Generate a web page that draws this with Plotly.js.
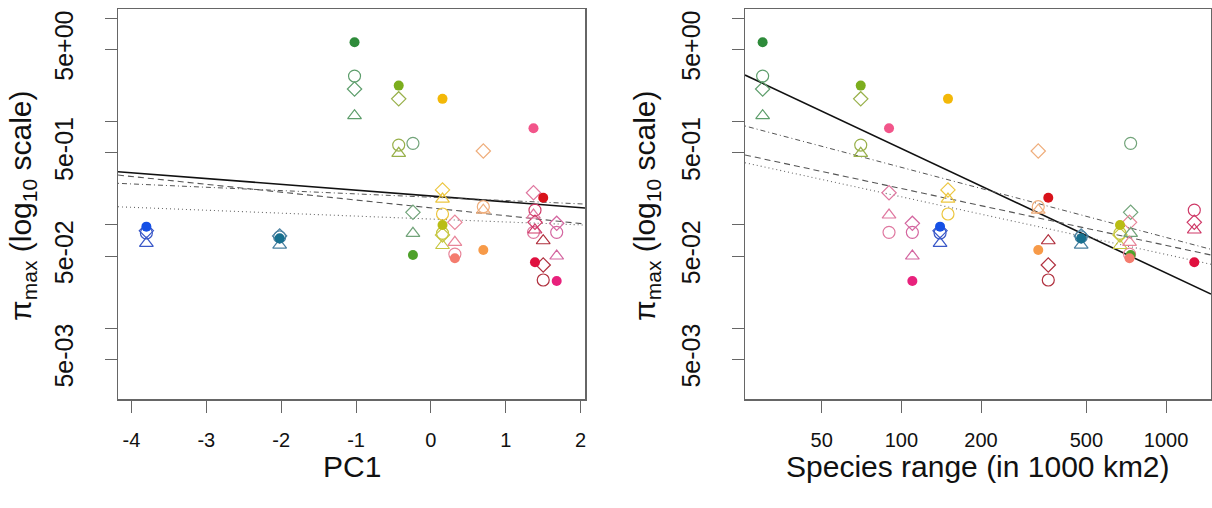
<!DOCTYPE html>
<html>
<head>
<meta charset="utf-8">
<script src="https://cdn.plot.ly/plotly-3.0.1.min.js"></script>
<style>
  html, body { margin: 0; padding: 0; background: #fff; }
  #chart { width: 1212px; height: 508px; }
</style>
</head>
<body>
<div id="chart"></div>
<script>
// ---- data ----
// one entry per species (colour)
const pc1 = [-1.02, -0.43, -0.24, 0.155, 0.155, 0.32, 0.70, 1.50, 1.37, 1.39, 1.68, -3.80, -2.02];
const speciesRange = [29.9, 70.2, 735, 150, 670, 728, 329, 359, 89.8, 1279, 110, 140, 478];
const piFilled   = [5.86, 2.23, 0.0512, 1.66, 0.0997, 0.0475, 0.0571, 0.183, 0.861, 0.0435, 0.0286, 0.0962, 0.0741];
const piCircle   = [2.76, 0.593, 0.616, 0.1276, 0.083, 0.0522, 0.150, 0.0293, 0.0848, 0.139, 0.0848, 0.0835, 0.0765];
const piDiamond  = [2.07, 1.66, 0.1324, 0.218, 0.080, 0.1059, 0.519, 0.0409, 0.205, 0.106, 0.1035, 0.0879, 0.0782];
const piTriangle = [1.14, 0.493, 0.0830, 0.178, 0.0632, 0.0679, 0.139, 0.0703, 0.1247, 0.0893, 0.050, 0.0664, 0.0638];
const fillColors = ['#2e8b3a', '#7cae1e', '#4ea12a', '#f3b808', '#b9bd14', '#f47c6e', '#f79a48', '#d8121a', '#f2558a', '#e0103f', '#e8217c', '#1550e6', '#17708f'];
const openColors = ['#5e9e6c', '#98b04a', '#72a47a', '#ecc640', '#c6c640', '#e8869a', '#efae7c', '#b0303e', '#df78a0', '#cf3a68', '#d466a0', '#3a58c8', '#4a80a0'];

// regression lines in log10(pi) space: solid, dashed, dot-dash, dotted
const leftIntercepts  = [-0.720, -0.835, -0.732, -0.943];
const leftSlopes      = [-0.0563, -0.0760, -0.0322, -0.0284];
const rightIntercepts = [2.147, 0.452, 0.913, 0.388];
const rightSlopes     = [-1.204, -0.550, -0.678, -0.558];

const yTickVals = [10, 5, 1, 0.5, 0.1, 0.05, 0.01, 0.005];
const yTickText = ['', '5e+00', '', '5e-01', '', '5e-02', '', '5e-03'];
const xTickVals1 = [-4, -3, -2, -1, 0, 1, 2];
const xTickVals2 = [50, 100, 200, 500, 1000];

// ---- styling ----
const xRange1 = [-4.179, 2.058];
const xRange2 = [1.409, 3.170];
const yRange = [-2.685, 1.087];
const lineStyles = [
  {color: '#111', width: 1.6, dash: 'solid'},
  {color: '#555', width: 1.1, dash: '6px,4px'},
  {color: '#555', width: 1, dash: '1px,3px,5px,3px'},
  {color: '#666', width: 1.1, dash: '1px,3px'}
];

const traces = [];
function addLines(intercepts, slopes, xr, isLog, xa, ya) {
  for (let i = 0; i < intercepts.length; i++) {
    const lx = [xr[0], xr[1]];
    const ys = lx.map(v => Math.pow(10, intercepts[i] + slopes[i] * v));
    const xs = isLog ? lx.map(v => Math.pow(10, v)) : lx;
    traces.push({x: xs, y: ys, xaxis: xa, yaxis: ya, mode: 'lines', line: lineStyles[i], hoverinfo: 'skip', showlegend: false});
  }
}
addLines(leftIntercepts, leftSlopes, xRange1, false, 'x', 'y');
addLines(rightIntercepts, rightSlopes, xRange2, true, 'x2', 'y2');

const markerDefs = [
  {vals: piCircle, symbol: 'circle-open', size: 12, open: true},
  {vals: piDiamond, symbol: 'diamond-open', size: 11, open: true},
  {vals: piTriangle, symbol: 'triangle-up-open', size: 12, open: true},
  {vals: piFilled, symbol: 'circle', size: 10, open: false}
];
function addPoints(xvals, xa, ya) {
  markerDefs.forEach(md => {
    traces.push({
      x: xvals, y: md.vals, xaxis: xa, yaxis: ya, mode: 'markers', showlegend: false,
      marker: {
        symbol: md.symbol, size: md.size,
        color: md.open ? openColors : fillColors,
        line: md.open ? {width: 1.2, color: openColors} : {width: 0}
      }
    });
  });
}
addPoints(pc1, 'x', 'y');
addPoints(speciesRange, 'x2', 'y2');

const tickFont = {family: 'Liberation Sans, Arial, sans-serif', size: 20, color: '#111'};
const yTickFont = {family: 'Liberation Sans, Arial, sans-serif', size: 25, color: '#111'};
const yDomain = [(508 - 399) / 508, (508 - 9.3) / 508];

function xAxis(domain, range, type, anchor, vals) {
  return {
    showgrid: false, zeroline: false, showline: true, mirror: true,
    linecolor: '#666', linewidth: 1.5, ticks: 'outside', ticklen: 12,
    tickcolor: '#666', tickwidth: 1, automargin: false,
    tickfont: tickFont, domain: domain, range: range, type: type, anchor: anchor,
    tickmode: 'array', tickvals: vals, ticktext: vals.map(String), ticklabelstandoff: 10
  };
}
function yAxis(anchor) {
  return {
    showgrid: false, zeroline: false, showline: true, mirror: true,
    linecolor: '#666', linewidth: 1.5, ticks: 'outside', ticklen: 12,
    tickcolor: '#666', tickwidth: 1, automargin: false,
    tickfont: yTickFont, domain: yDomain, type: 'log', range: yRange, anchor: anchor,
    tickmode: 'array', tickvals: yTickVals, ticktext: yTickText, tickangle: -90, ticklabelstandoff: 22
  };
}

const layout = {
  width: 1212, height: 508,
  margin: {l: 0, r: 0, t: 0, b: 0},
  paper_bgcolor: '#fff', plot_bgcolor: '#fff',
  showlegend: false,
  font: {family: 'Liberation Sans, Arial, sans-serif', color: '#111'},
  xaxis: xAxis([118 / 1212, 585 / 1212], xRange1, 'linear', 'y', xTickVals1),
  yaxis: yAxis('x'),
  xaxis2: xAxis([745 / 1212, 1211 / 1212], xRange2, 'log', 'y2', xTickVals2),
  yaxis2: yAxis('x2'),
  annotations: [
    {text: 'PC1', xref: 'paper', yref: 'paper', x: 351.5 / 1212, y: (508 - 466) / 508,
     xanchor: 'center', yanchor: 'middle', showarrow: false, font: {size: 30}},
    {text: 'Species range (in 1000 km2)', xref: 'paper', yref: 'paper', x: 978 / 1212, y: (508 - 466) / 508,
     xanchor: 'center', yanchor: 'middle', showarrow: false, font: {size: 30}},
    {text: 'π<sub>max</sub> (log<sub>10</sub> scale)', xref: 'paper', yref: 'paper', x: 23 / 1212, y: (508 - 206) / 508,
     xanchor: 'center', yanchor: 'middle', showarrow: false, textangle: -90, font: {size: 30}},
    {text: 'π<sub>max</sub> (log<sub>10</sub> scale)', xref: 'paper', yref: 'paper', x: 647 / 1212, y: (508 - 206) / 508,
     xanchor: 'center', yanchor: 'middle', showarrow: false, textangle: -90, font: {size: 30}}
  ]
};

Plotly.newPlot('chart', traces, layout, {staticPlot: true, displayModeBar: false});
</script>
</body>
</html>
